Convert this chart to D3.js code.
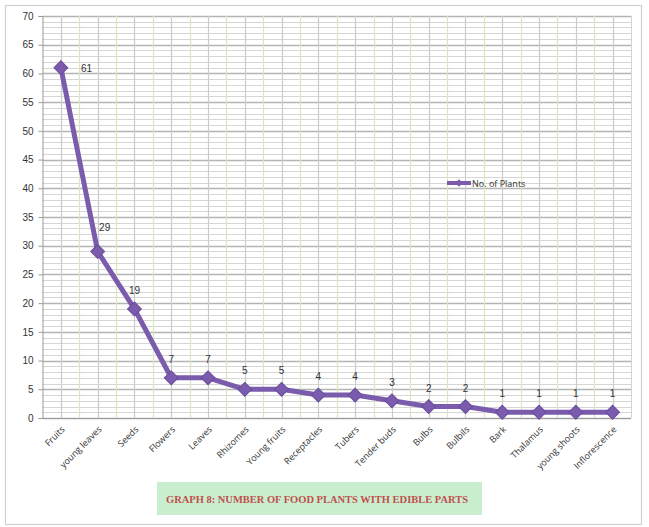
<!DOCTYPE html>
<html>
<head>
<meta charset="utf-8">
<script src="https://cdn.jsdelivr.net/npm/d3@7/dist/d3.min.js"></script>
<style>
  html, body { margin: 0; padding: 0; background: #fff; }
  svg { display: block; }
</style>
</head>
<body>
<svg id="chart" width="649" height="527"></svg>
<script>
// Edible plant parts and how many food plants use each
const categories = ["Fruits", "young leaves", "Seeds", "Flowers", "Leaves", "Rhizomes",
  "Young fruits", "Receptacles", "Tubers", "Tender buds", "Bulbs", "Bulbils", "Bark",
  "Thalamus", "young shoots", "Inflorescence"];
const plantCounts = [61, 29, 19, 7, 7, 5, 5, 4, 4, 3, 2, 2, 1, 1, 1, 1];
const yTicks = [0, 5, 10, 15, 20, 25, 30, 35, 40, 45, 50, 55, 60, 65, 70];
const seriesName = "No. of Plants";
const chartTitle = "GRAPH 8: NUMBER OF FOOD PLANTS WITH EDIBLE PARTS";

const svg = d3.select("#chart");
const plot = { left: 42.5, right: 631, top: 16, bottom: 418 };

// outer chart frame
svg.append("rect")
  .attr("x", 5.5).attr("y", 5.5).attr("width", 636).attr("height", 519)
  .attr("fill", "#fff").attr("stroke", "#d0d0d0").attr("stroke-width", 1.2);

const x = d3.scalePoint().domain(categories).range([plot.left, plot.right]).padding(0.5);
const y = d3.scaleLinear().domain([0, 70]).range([plot.bottom, plot.top]);
const step = x.step();

const grid = svg.append("g");
// minor horizontal gridlines every unit, heavier every five
grid.selectAll("line.hmin").data(d3.range(0, 71))
  .join("line")
  .attr("x1", plot.left).attr("x2", plot.right)
  .attr("y1", d => Math.round(y(d)) + 0.5).attr("y2", d => Math.round(y(d)) + 0.5)
  .attr("stroke", d => d % 5 === 0 ? "#b4b4b4" : "#d6d6d6")
  .attr("stroke-width", d => d % 5 === 0 ? 1.3 : 1);

// vertical gridlines: through each category and between categories
const vPos = [];
categories.forEach((c, i) => {
  vPos.push({ px: x(c), mid: true });
  if (i < categories.length - 1) vPos.push({ px: x(c) + step / 2, mid: false });
});
grid.selectAll("line.v").data(vPos)
  .join("line")
  .attr("x1", d => Math.round(d.px) + 0.5).attr("x2", d => Math.round(d.px) + 0.5)
  .attr("y1", plot.top).attr("y2", plot.bottom)
  .attr("stroke", d => d.mid ? "#cbcbcb" : "#dbe6bd")
  .attr("stroke-width", 1.2);

// plot-area right edge
grid.append("line")
  .attr("x1", plot.right + 0.5).attr("x2", plot.right + 0.5)
  .attr("y1", plot.top).attr("y2", plot.bottom)
  .attr("stroke", "#d4d4d4");

// y axis
const yAxis = svg.append("g")
  .attr("transform", `translate(${plot.left},0)`)
  .call(d3.axisLeft(y).tickValues(yTicks).tickSize(4).tickPadding(5));
yAxis.select(".domain").attr("stroke", "#9a9a9a");
yAxis.selectAll(".tick line").attr("stroke", "#9a9a9a");
yAxis.selectAll("text")
  .attr("font-family", "Liberation Sans, Arial, sans-serif")
  .attr("font-size", 10).attr("fill", "#333");

// x axis
const xAxis = svg.append("g")
  .attr("transform", `translate(0,${plot.bottom})`)
  .call(d3.axisBottom(x).tickSize(0).tickPadding(0));
xAxis.select(".domain").attr("stroke", "#9a9a9a").attr("d", `M${plot.left},0.5H${plot.right}`);
xAxis.selectAll("text")
  .attr("font-family", "Open Sans, Liberation Sans, sans-serif")
  .attr("font-size", 9).attr("fill", "#333")
  .attr("text-anchor", "end")
  .attr("dy", 0)
  .attr("transform", "translate(4,12) rotate(-45)");

// series line
const purple = "#7b5cac";
const line = d3.line()
  .x((d, i) => x(categories[i]))
  .y(d => y(d));
svg.append("path")
  .datum(plantCounts)
  .attr("fill", "none")
  .attr("stroke", purple)
  .attr("stroke-width", 5)
  .attr("stroke-linejoin", "round")
  .attr("d", line);

// diamond markers
const diamond = d3.symbol().type(d3.symbolSquare).size(96);
svg.selectAll("path.marker").data(plantCounts)
  .join("path")
  .attr("class", "marker")
  .attr("d", diamond)
  .attr("transform", (d, i) => `translate(${x(categories[i])},${y(d)}) rotate(45)`)
  .attr("fill", "#7a5bae")
  .attr("stroke", "#6a4c9c")
  .attr("stroke-width", 1);

// value labels
svg.selectAll("text.val").data(plantCounts)
  .join("text")
  .attr("class", "val")
  .attr("x", (d, i) => x(categories[i]) + (i === 0 ? 20 : i === 1 ? 7 : 0))
  .attr("y", (d, i) => y(d) + (i === 0 ? 4 : i === 1 ? -20 : -15))
  .attr("text-anchor", (d, i) => i === 0 ? "start" : "middle")
  .attr("font-family", "Liberation Sans, Arial, sans-serif")
  .attr("font-size", 10).attr("fill", "#333")
  .text(d => d);

// legend
const lg = svg.append("g").attr("transform", "translate(447,183)");
lg.append("line").attr("x1", 0).attr("x2", 24).attr("y1", 0).attr("y2", 0)
  .attr("stroke", purple).attr("stroke-width", 4);
lg.append("path").attr("d", d3.symbol().type(d3.symbolSquare).size(30))
  .attr("transform", "translate(12,0) rotate(45)").attr("fill", "#7a5bae");
lg.append("text").attr("x", 25).attr("y", 3.5)
  .attr("font-family", "Open Sans, Liberation Sans, sans-serif")
  .attr("font-size", 9).attr("fill", "#333")
  .text(seriesName);

// caption box
svg.append("rect")
  .attr("x", 157).attr("y", 482).attr("width", 325).attr("height", 33)
  .attr("fill", "#c9eecf");
svg.append("text")
  .attr("x", 166).attr("y", 503)
  .attr("font-family", "Liberation Serif, DejaVu Serif, serif")
  .attr("font-size", 11).attr("font-weight", "bold").attr("fill", "#c0504d")
  .attr("textLength", 302).attr("lengthAdjust", "spacingAndGlyphs")
  .text(chartTitle);
</script>
</body>
</html>
